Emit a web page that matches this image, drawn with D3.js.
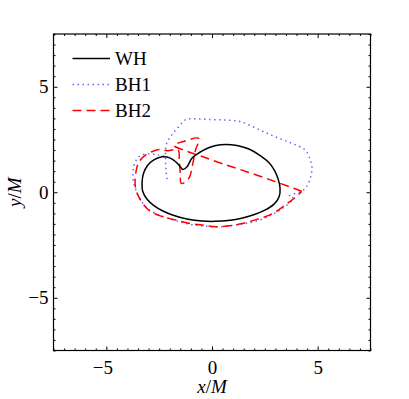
<!DOCTYPE html>
<html>
<head>
<meta charset="utf-8">
<script src="https://cdn.jsdelivr.net/npm/d3@7"></script>
<style>
  body { margin: 0; background: #fff; }
  svg text { font-family: "Liberation Serif", "DejaVu Serif", serif; }
</style>
</head>
<body>
<div id="chart"></div>
<script>
// trajectories, [x/M, y/M]
const whPath = [
  [-1.38, 1.08], [-1.18, 1.21], [-0.95, 1.61], [-0.63, 1.86], [-0.16, 2.11], [0.4, 2.25],
  [1.18, 2.22], [1.75, 2.05], [2.28, 1.74], [2.68, 1.42], [2.95, 1.05], [3.12, 0.65],
  [3.22, 0.2], [3.18, -0.2], [2.95, -0.55], [2.5, -0.85], [1.97, -1.07], [1.4, -1.23],
  [0.87, -1.33], [0.1, -1.38], [-0.6, -1.35], [-1.18, -1.27], [-1.8, -1.1], [-2.3, -0.9],
  [-2.75, -0.63], [-3.07, -0.33], [-3.28, 0.05], [-3.31, 0.45], [-3.24, 0.9], [-3.05, 1.27],
  [-2.75, 1.53], [-2.36, 1.68], [-1.97, 1.62], [-1.65, 1.38], [-1.48, 1.18]
];

const bh1Path = [
  [-2.13, 0.62], [-2.18, 1.1], [-2.2, 1.65], [-2.15, 2.3], [-1.9, 2.72], [-1.58, 3.1],
  [-1.22, 3.45], [-0.6, 3.47], [0.08, 3.44], [0.7, 3.42], [1.34, 3.35], [2.2, 2.98],
  [2.99, 2.63], [3.78, 2.32], [4.41, 2.0], [4.65, 1.55], [4.73, 1.2], [4.67, 0.74],
  [4.5, 0.3], [4.25, 0.05], [3.65, -0.18], [3.85, -0.3], [3.4, -0.72], [2.91, -1.03],
  [2.3, -1.3], [1.6, -1.48], [1.0, -1.57], [0.3, -1.64], [-0.4, -1.6], [-1.0, -1.53],
  [-1.74, -1.33], [-2.36, -1.13], [-3.0, -0.82], [-3.35, -0.4], [-3.6, 0.1], [-3.73, 0.6],
  [-3.72, 1.1], [-3.6, 1.5], [-3.35, 1.76], [-2.9, 1.82], [-2.5, 1.76], [-2.2, 1.7]
];

const bh2Path = [
  [4.25, 0.05], [2.1, 0.82], [0.5, 1.35], [-0.55, 1.72], [-1.2, 1.95], [-1.8, 2.22],
  [-1.4, 2.39], [-0.62, 2.55], [-0.78, 2.0], [-0.92, 1.3], [-1.1, 0.65], [-1.45, 0.42],
  [-1.5, 0.9], [-1.55, 1.5], [-1.6, 2.0], [-2.1, 1.97], [-2.5, 2.03], [-2.85, 1.92],
  [-3.15, 1.76], [-3.45, 1.45], [-3.6, 0.95], [-3.63, 0.3], [-3.47, -0.21], [-3.0, -0.84],
  [-2.36, -1.15], [-1.74, -1.31], [-1.0, -1.49], [-0.47, -1.55], [0.16, -1.63], [1.1, -1.55],
  [2.05, -1.31], [2.91, -0.99], [3.6, -0.5], [4.0, -0.2], [4.25, 0.05]
];

const seriesNames = ["WH", "BH1", "BH2"];
const seriesColors = ["#000000", "#6666ff", "#ff0000"];
const seriesDash = [null, "1.5,3.5", "9,5"];
const majorTicks = [-5, 0, 5];
const minorTicks = d3.range(-7.5, 7.51, 0.5).filter((v) => !majorTicks.includes(v));

const WIDTH = 409;
const HEIGHT = 399;
const PLOT = { left: 53.5, right: 370.5, top: 34, bottom: 350.5 };

const svg = d3
  .select("#chart")
  .append("svg")
  .attr("width", WIDTH)
  .attr("height", HEIGHT);

const x = d3.scaleLinear().domain([-7.5, 7.5]).range([PLOT.left, PLOT.right]);
const y = d3.scaleLinear().domain([-7.5, 7.5]).range([PLOT.bottom, PLOT.top]);

const W = PLOT.right - PLOT.left;
const H = PLOT.bottom - PLOT.top;

// axes: ticks point inward on all four sides
const addAxis = (axisFn, scale, values, size, translate, labels, padding) => {
  const g = svg
    .append("g")
    .attr("transform", translate)
    .call(
      axisFn(scale)
        .tickValues(values)
        .tickSize(-size)
        .tickSizeOuter(0)
        .tickPadding(padding)
        .tickFormat(labels ? d3.format("d") : "")
    );
  g.select(".domain").remove();
  g.selectAll("line").attr("stroke", "#000").attr("stroke-width", 1);
  g.selectAll("text").attr("font-size", 19).attr("fill", "#000").style("font-family", "Liberation Serif");
  return g;
};

const xAxis = addAxis(d3.axisBottom, x, majorTicks, 4, `translate(0,${PLOT.bottom})`, true, 10);
// matlab centres "−5" as a whole string, so it sits a bit left of the tick
xAxis.selectAll("text").attr("dx", (d) => (d < 0 ? -4 : 0));
addAxis(d3.axisBottom, x, minorTicks, 2, `translate(0,${PLOT.bottom})`, false, 0);
addAxis(d3.axisTop, x, majorTicks, 4, `translate(0,${PLOT.top})`, false, 0);
addAxis(d3.axisTop, x, minorTicks, 2, `translate(0,${PLOT.top})`, false, 0);
addAxis(d3.axisLeft, y, majorTicks, 4, `translate(${PLOT.left},0)`, true, 5);
addAxis(d3.axisLeft, y, minorTicks, 2, `translate(${PLOT.left},0)`, false, 0);
addAxis(d3.axisRight, y, majorTicks, 4, `translate(${PLOT.right},0)`, false, 0);
addAxis(d3.axisRight, y, minorTicks, 2, `translate(${PLOT.right},0)`, false, 0);

svg
  .append("rect")
  .attr("x", PLOT.left)
  .attr("y", PLOT.top)
  .attr("width", W)
  .attr("height", H)
  .attr("fill", "none")
  .attr("stroke", "#000")
  .attr("stroke-width", 1.2);

// trajectories
const line = d3
  .line()
  .x((d) => x(d[0]))
  .y((d) => y(d[1]))
  .curve(d3.curveCatmullRom.alpha(0.5));

const paths = [bh1Path, bh2Path];
paths.forEach((data, i) => {
  svg
    .append("path")
    .datum(data)
    .attr("d", line)
    .attr("fill", "none")
    .attr("stroke", seriesColors[i + 1])
    .attr("stroke-width", 1.5)
    .attr("stroke-dasharray", seriesDash[i + 1]);
});

svg
  .append("path")
  .datum(whPath)
  .attr("d", line.curve(d3.curveCatmullRomClosed.alpha(0.5)))
  .attr("fill", "none")
  .attr("stroke", seriesColors[0])
  .attr("stroke-width", 1.5);

// legend
const legend = svg.append("g");
seriesNames.forEach((name, i) => {
  const ly = 58.5 + i * 26;
  legend
    .append("line")
    .attr("x1", 72.5)
    .attr("x2", 110)
    .attr("y1", ly)
    .attr("y2", ly)
    .attr("stroke", seriesColors[i])
    .attr("stroke-width", 1.5)
    .attr("stroke-dasharray", seriesDash[i]);
  legend
    .append("text")
    .attr("x", 115)
    .attr("y", ly + 6.5)
    .attr("font-size", 19)
    .text(name);
});

// axis titles
const xTitle = svg
  .append("text")
  .attr("x", (PLOT.left + PLOT.right) / 2)
  .attr("y", 393)
  .attr("text-anchor", "middle")
  .attr("font-size", 19);
xTitle.append("tspan").attr("font-style", "italic").text("x");
xTitle.append("tspan").text("/");
xTitle.append("tspan").attr("font-style", "italic").text("M");

const yTitle = svg
  .append("text")
  .attr("transform", `translate(21,${(PLOT.top + PLOT.bottom) / 2}) rotate(-90)`)
  .attr("text-anchor", "middle")
  .attr("font-size", 19);
yTitle.append("tspan").attr("font-style", "italic").text("y");
yTitle.append("tspan").text("/");
yTitle.append("tspan").attr("font-style", "italic").text("M");
</script>
</body>
</html>
